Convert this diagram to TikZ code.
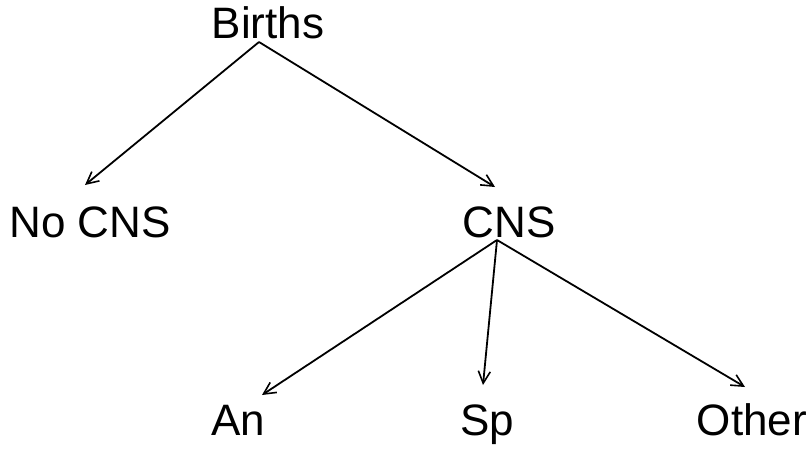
\documentclass[tikz,border=0pt]{standalone}
\usepackage{fontspec}
\setmainfont{Liberation Sans}
\usetikzlibrary{arrows.meta}
\begin{document}
\begin{tikzpicture}[x=1pt,y=-1pt,
  lbl/.style={anchor=base,inner sep=0pt,font=\fontsize{44}{50}\selectfont},
  edge/.style={line width=1.8pt,-{Straight Barb[length=12pt,width=12pt,line width=1.6pt]}}]
\useasboundingbox (0,0) rectangle (811,450);
\node[lbl] (births) at (268,38) {Births};
\node[lbl] (nocns) at (90,237) {No CNS};
\node[lbl] (cns) at (509,237) {CNS};
\node[lbl] (an) at (238,435) {An};
\node[lbl] (sp) at (487,435) {Sp};
\node[lbl] (other) at (752,435) {Other};
\coordinate (bB) at (259,42);
\coordinate (tNo) at (85,185);
\coordinate (tCns) at (495,187);
\coordinate (bC) at (497,240);
\coordinate (tAn) at (262,395);
\coordinate (tSp) at (483,385);
\coordinate (tOt) at (745,387);
\draw[edge] (bB) -- (tNo);
\draw[edge] (bB) -- (tCns);
\draw[edge] (bC) -- (tAn);
\draw[edge] (bC) -- (tSp);
\draw[edge] (bC) -- (tOt);
\end{tikzpicture}
\end{document}
